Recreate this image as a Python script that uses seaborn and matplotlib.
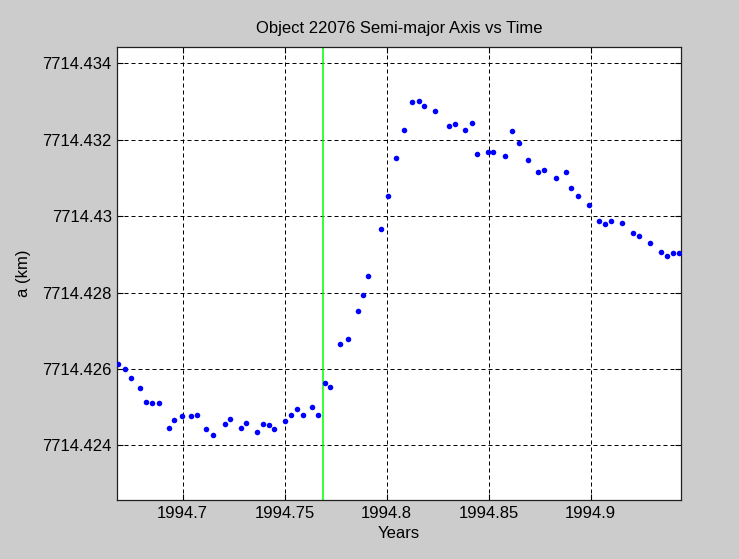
import matplotlib
matplotlib.use("Agg")
import matplotlib.pyplot as plt
import matplotlib.ticker as mticker
import seaborn as sns
import pandas as pd

years = [
    1994.66843, 1994.67172, 1994.67451, 1994.67892, 1994.68201, 1994.68480,
    1994.68824, 1994.69328, 1994.69588, 1994.69966, 1994.70422, 1994.70701,
    1994.71157, 1994.71485, 1994.72059, 1994.72319, 1994.72843, 1994.73103,
    1994.73627, 1994.73951, 1994.74216, 1994.74475, 1994.75000, 1994.75309,
    1994.75588, 1994.75897, 1994.76353, 1994.76632, 1994.76961, 1994.77221,
    1994.77725, 1994.78118, 1994.78578, 1994.78824, 1994.79098, 1994.79721,
    1994.80078, 1994.80456, 1994.80848, 1994.81240, 1994.81569, 1994.81828,
    1994.82353, 1994.83069, 1994.83333, 1994.83838, 1994.84181, 1994.84441,
    1994.84951, 1994.85225, 1994.85814, 1994.86127, 1994.86510, 1994.86926,
    1994.87431, 1994.87696, 1994.88284, 1994.88804, 1994.89049, 1994.89377,
    1994.89902, 1994.90422, 1994.90686, 1994.91010, 1994.91534, 1994.92059,
    1994.92382, 1994.92907, 1994.93431, 1994.93755, 1994.94020, 1994.94343,
]
semi_major_km = [
    7714.426120, 7714.425997, 7714.425770, 7714.425492, 7714.425141, 7714.425115,
    7714.425115, 7714.424453, 7714.424662, 7714.424767, 7714.424759, 7714.424801,
    7714.424419, 7714.424270, 7714.424558, 7714.424696, 7714.424445, 7714.424592,
    7714.424348, 7714.424558, 7714.424524, 7714.424419, 7714.424628, 7714.424793,
    7714.424942, 7714.424801, 7714.425010, 7714.424801, 7714.425639, 7714.425526,
    7714.426644, 7714.426783, 7714.427508, 7714.427927, 7714.428440, 7714.429662,
    7714.430526, 7714.431529, 7714.432262, 7714.432987, 7714.433021, 7714.432882,
    7714.432743, 7714.432366, 7714.432403, 7714.432262, 7714.432437, 7714.431634,
    7714.431670, 7714.431670, 7714.431565, 7714.432228, 7714.431914, 7714.431463,
    7714.431154, 7714.431215, 7714.431005, 7714.431154, 7714.430736, 7714.430526,
    7714.430283, 7714.429864, 7714.429793, 7714.429864, 7714.429827, 7714.429550,
    7714.429479, 7714.429304, 7714.429060, 7714.428955, 7714.429026, 7714.429026,
]
marker_year = 1994.7688
x_ticks = [1994.70, 1994.75, 1994.80, 1994.85, 1994.90]
y_ticks = [7714.424, 7714.426, 7714.428, 7714.430, 7714.432, 7714.434]
title = "Object 22076 Semi-major Axis vs Time"
x_label = "Years"
y_label = "a (km)"

df = pd.DataFrame({"Years": years, "a": semi_major_km})

plt.rcParams["font.family"] = ["Liberation Sans", "DejaVu Sans"]

fig = plt.figure(figsize=(7.39, 5.59), dpi=100, facecolor="#cccccc")
ax = fig.add_axes([117.3 / 739, 1 - 500.3 / 559, (681 - 117.3) / 739, (500.3 - 47) / 559])
ax.set_facecolor("white")

sns.scatterplot(data=df, x="Years", y="a", ax=ax, color="#0000ff", s=16,
                linewidth=0, marker="o", zorder=3)
ax.axvline(marker_year, color="#00ff00", lw=1.1, zorder=2)

ax.set_xlim(1994.6680, 1994.9443)
ax.set_ylim(7714.42256, 7714.43443)
ax.set_xticks(x_ticks)
ax.set_yticks(y_ticks)
fmt = mticker.FuncFormatter(lambda v, p: ("%.3f" % v).rstrip("0").rstrip("."))
ax.xaxis.set_major_formatter(fmt)
ax.yaxis.set_major_formatter(fmt)

ax.grid(True, color="black", linestyle=(0, (4, 3)), linewidth=0.72, zorder=1)
ax.tick_params(direction="in", top=True, right=True, length=4, width=0.8,
               labelsize=12, pad=4, colors="black")
for sp in ax.spines.values():
    sp.set_color("#202020")
    sp.set_linewidth(0.9)

ax.set_title(title, fontsize=12, pad=10)
ax.set_xlabel(x_label, fontsize=12, labelpad=4)
ax.set_ylabel(y_label, fontsize=12, labelpad=8)

fig.savefig("out.png", dpi=100, facecolor=fig.get_facecolor())
